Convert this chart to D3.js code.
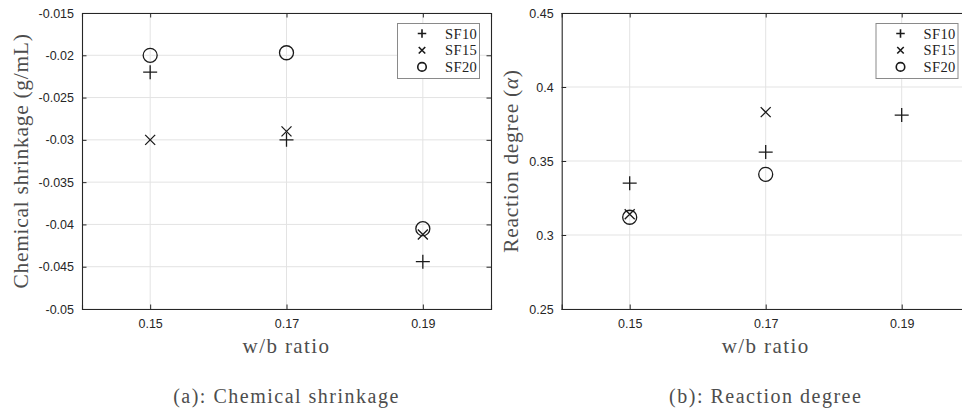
<!DOCTYPE html>
<html><head><meta charset="utf-8">
<script src="https://cdn.jsdelivr.net/npm/d3@7"></script>
<style>
html,body{margin:0;padding:0;background:#fff;}
svg{display:block;}
</style></head>
<body>
<svg id="chart" width="962" height="411"></svg>
<script>
// ---- data ----
const wbRatios = [0.15, 0.17, 0.19];
const seriesNames = ["SF10", "SF15", "SF20"];
const seriesSymbols = ["plus", "cross", "circle"];
// Chemical shrinkage (g/mL)
const shrinkSF10 = [-0.022, -0.030, -0.0444];
const shrinkSF15 = [-0.030, -0.029, -0.0412];
const shrinkSF20 = [-0.020, -0.0197, -0.0405];
// Reaction degree (alpha)
const reactSF10 = [0.335, 0.356, 0.381];
const reactSF15 = [0.314, 0.383, null];
const reactSF20 = [0.312, 0.341, null];
const xTicks = [0.15, 0.17, 0.19];
const shrinkTicks = [-0.05, -0.045, -0.04, -0.035, -0.03, -0.025, -0.02, -0.015];
const reactTicks = [0.25, 0.3, 0.35, 0.4, 0.45];

const svg = d3.select("#chart");
const serif = "'Liberation Serif','Times New Roman',serif";
const sans = "'Liberation Sans',Arial,Helvetica,sans-serif";
const axisCol = "#262626";
const markCol = "#1a1a1a";
const labelCol = "#4d4d4d";

function drawMarker(g, type, x, y, size, sw) {
  const h = size / 2;
  if (type === "circle") {
    g.append("circle").attr("cx", x).attr("cy", y).attr("r", h)
      .attr("fill", "none").attr("stroke", markCol).attr("stroke-width", sw);
  } else {
    const d = type === "plus" ? `M${-h},0H${h}M0,${-h}V${h}`
                              : `M${-h},${-h}L${h},${h}M${-h},${h}L${h},${-h}`;
    g.append("path").attr("transform", `translate(${x},${y})`).attr("d", d)
      .attr("fill", "none").attr("stroke", markCol).attr("stroke-width", sw);
  }
}

function panel(opts) {
  const {left, right, top, bottom, yDomain, yTicks, yFmt, series, ylabel, caption, legendX} = opts;
  const g = svg.append("g");
  const x = d3.scaleLinear().domain([0.14, 0.20]).range([left, right]);
  const y = d3.scaleLinear().domain(yDomain).range([bottom, top]);

  // grid
  g.append("g").selectAll("line").data(xTicks).join("line")
    .attr("x1", d => x(d)).attr("x2", d => x(d)).attr("y1", top).attr("y2", bottom)
    .attr("stroke", "#e3e3e3").attr("stroke-width", 1);
  g.append("g").selectAll("line").data(yTicks).join("line")
    .attr("x1", left).attr("x2", right).attr("y1", d => y(d)).attr("y2", d => y(d))
    .attr("stroke", "#e3e3e3").attr("stroke-width", 1);

  // axes (inward ticks, box)
  const tl = 4.5;
  const bottomAxis = d3.axisBottom(x).tickValues(xTicks).tickSize(-tl).tickPadding(10).tickFormat(d => d.toFixed(2));
  const topAxis = d3.axisTop(x).tickValues(xTicks).tickSize(-tl).tickFormat("");
  const leftAxis = d3.axisLeft(y).tickValues(yTicks).tickSize(-tl).tickPadding(8).tickFormat(yFmt);
  const rightAxis = d3.axisRight(y).tickValues(yTicks).tickSize(-tl).tickFormat("");
  const styleAxis = sel => {
    sel.selectAll("path.domain").attr("stroke", axisCol).attr("stroke-width", 1.1);
    sel.selectAll(".tick line").attr("stroke", axisCol).attr("stroke-width", 1);
    sel.selectAll(".tick text").attr("fill", axisCol).style("font-family", sans).style("font-size", "12.5px");
  };
  g.append("g").attr("transform", `translate(0,${bottom})`).call(bottomAxis).call(styleAxis);
  g.append("g").attr("transform", `translate(0,${top})`).call(topAxis).call(styleAxis);
  g.append("g").attr("transform", `translate(${left},0)`).call(leftAxis).call(styleAxis);
  g.append("g").attr("transform", `translate(${right},0)`).call(rightAxis).call(styleAxis);

  // markers
  series.forEach((vals, i) => {
    vals.forEach((v, j) => {
      if (v === null) return;
      drawMarker(g, seriesSymbols[i], x(wbRatios[j]), y(v), seriesSymbols[i] === "cross" ? 10 : 14, 1.3);
    });
  });

  // legend
  const lg = g.append("g");
  lg.append("rect").attr("x", legendX).attr("y", 23.5).attr("width", 82).attr("height", 55)
    .attr("fill", "#fff").attr("stroke", "#8a8a8a").attr("stroke-width", 1);
  seriesNames.forEach((name, i) => {
    const cy = 33.5 + i * 16.7;
    drawMarker(lg, seriesSymbols[i], legendX + 24.5, cy, seriesSymbols[i] === "cross" ? 6.5 : 8.5, 1.6);
    lg.append("text").attr("x", legendX + 47.5).attr("y", cy + 5)
      .style("font-family", serif).style("font-size", "14.5px").style("letter-spacing", "0.4px")
      .attr("fill", "#222").text(name);
  });

  // labels
  const xl = x(0.17);
  g.append("text").attr("x", xl).attr("y", 353).attr("text-anchor", "middle")
    .style("font-family", serif).style("font-size", "21px").style("letter-spacing", "1.4px")
    .attr("fill", labelCol).text("w/b ratio");
  g.append("text").attr("x", xl).attr("y", 403).attr("text-anchor", "middle")
    .style("font-family", serif).style("font-size", "20px").style("letter-spacing", "1.5px")
    .attr("fill", labelCol).text(caption);
  const yl = g.append("text").attr("transform", `translate(${opts.ylabelX},${(top + bottom) / 2}) rotate(-90)`)
    .attr("text-anchor", "middle")
    .style("font-family", serif).style("font-size", "21.5px").style("letter-spacing", "0.7px")
    .attr("fill", labelCol);
  ylabel(yl);
}

panel({
  left: 82, right: 491, top: 13, bottom: 309,
  yDomain: [-0.05, -0.015], yTicks: shrinkTicks, yFmt: d => String(+d.toFixed(3)),
  series: [shrinkSF10, shrinkSF15, shrinkSF20],
  ylabelX: 28,
  ylabel: t => t.text("Chemical shrinkage (g/mL)"),
  caption: "(a):  Chemical shrinkage",
  legendX: 397.5
});

panel({
  left: 561.7, right: 969.7, top: 13, bottom: 309,
  yDomain: [0.25, 0.45], yTicks: reactTicks, yFmt: d => String(+d.toFixed(2)),
  series: [reactSF10, reactSF15, reactSF20],
  ylabelX: 518,
  ylabel: t => { t.append("tspan").text("Reaction degree ("); t.append("tspan").style("font-style", "italic").text("α"); t.append("tspan").text(")"); },
  caption: "(b):  Reaction degree",
  legendX: 876
});
</script>
</body></html>
